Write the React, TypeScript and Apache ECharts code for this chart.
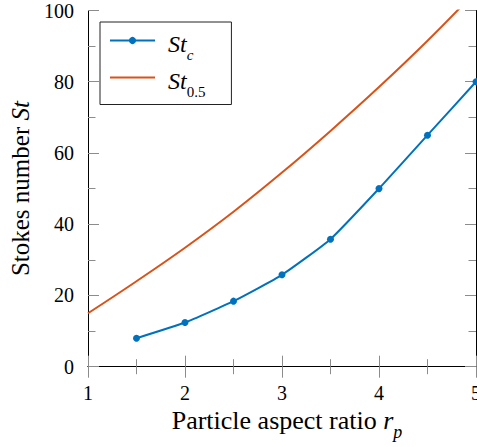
import React, { useEffect, useRef } from "react";
import * as echarts from "echarts";

const rpC = [1.5, 2, 2.5, 3, 3.5, 4, 4.5, 5];
const stC = [8, 12.4, 18.4, 25.8, 35.8, 50, 65, 80];
const rpHalf = [1, 1.5, 2, 2.5, 3, 3.5, 4, 4.5, 5];
const stHalf = [15, 24, 33.4, 43.5, 54.5, 66.2, 78.5, 91.5, 105.4];

const FONT = "'Liberation Serif', 'Times New Roman', serif";
const BLUE = "#0072BD";
const ORANGE = "#D95319";
const TICK = "#8c8c8c";

export default function App() {
  const ref = useRef<HTMLDivElement>(null);
  useEffect(() => {
    if (!ref.current) return;
    const chart = echarts.init(ref.current, null, { renderer: "svg" });
    const tickCommon = {
      axisTick: { show: true, inside: true, length: 11, lineStyle: { color: TICK, width: 1 } },
      minorTick: { show: true, splitNumber: 2, length: 7.5, lineStyle: { color: TICK, width: 1 } },
      axisLine: { show: true, lineStyle: { color: "#000", width: 1 } },
      splitLine: { show: false },
      minorSplitLine: { show: false },
    };
    chart.setOption({
      animation: false,
      textStyle: { fontFamily: FONT },
      grid: {
        left: 88,
        right: 1,
        top: 10.5,
        bottom: 80.3,
        containLabel: false,
        outerBoundsMode: "none",
      },
      legend: {
        orient: "vertical",
        left: 100,
        top: 22,
        padding: [4.5, 26, 5, 9],
        itemGap: 1,
        itemWidth: 45,
        itemHeight: 9,
        backgroundColor: "#fff",
        borderColor: "#222",
        borderWidth: 1,
        borderRadius: 0,
        data: [{ name: "St_c" }, { name: "St_0.5", itemStyle: { opacity: 0 } }],
        formatter: (name: string) =>
          name === "St_c" ? "{i|St}{s|c}" : "{i|St}{n|0.5}",
        textStyle: {
          fontFamily: FONT,
          rich: {
            i: { fontFamily: FONT, fontStyle: "italic", fontSize: 24, lineHeight: 28, verticalAlign: "top", padding: [5, 0, 0, 8], color: "#000" },
            s: { fontFamily: FONT, fontStyle: "italic", fontSize: 15, lineHeight: 15, verticalAlign: "top", padding: [21, 0, 0, 0], color: "#000" },
            n: { fontFamily: FONT, fontSize: 15, lineHeight: 15, verticalAlign: "top", padding: [21, 0, 0, 0], color: "#000" },
          },
        },
      },
      xAxis: [
        {
          type: "value",
          min: 1,
          max: 5,
          interval: 1,
          position: "bottom",
          ...tickCommon,
          axisLabel: { show: true, fontFamily: FONT, fontSize: 20, color: "#000", margin: 16 },
          name: "{n|Particle aspect ratio }{i|r}{s|p}",
          nameLocation: "middle",
          nameGap: 34.6,
          nameTextStyle: {
            fontFamily: FONT,
            rich: {
              n: { fontFamily: FONT, fontSize: 26, lineHeight: 31, verticalAlign: "top", padding: [0, 0, 0, 10], color: "#000" },
              i: { fontFamily: FONT, fontStyle: "italic", fontSize: 26, lineHeight: 31, verticalAlign: "top", color: "#000" },
              s: { fontFamily: FONT, fontStyle: "italic", fontSize: 18, lineHeight: 18, verticalAlign: "top", padding: [15, 0, 0, 0], color: "#000" },
            },
          },
        },
        {
          type: "value",
          min: 1,
          max: 5,
          interval: 1,
          position: "top",
          ...tickCommon,
          axisLabel: { show: false },
        },
      ],
      yAxis: [
        {
          type: "value",
          min: 0,
          max: 100,
          interval: 20,
          position: "left",
          ...tickCommon,
          axisLabel: { show: true, fontFamily: FONT, fontSize: 20, color: "#000", margin: 14, padding: [6, 0, 0, 0] },
          name: "{n|Stokes number }{i|St}",
          nameLocation: "middle",
          nameGap: 51,
          nameTextStyle: {
            fontFamily: FONT,
            rich: {
              n: { fontFamily: FONT, fontSize: 25, lineHeight: 30, color: "#000" },
              i: { fontFamily: FONT, fontStyle: "italic", fontSize: 25, lineHeight: 30, color: "#000" },
            },
          },
        },
        {
          type: "value",
          min: 0,
          max: 100,
          interval: 20,
          position: "right",
          ...tickCommon,
          axisLabel: { show: false },
        },
      ],
      series: [
        {
          name: "St_c",
          type: "line",
          xAxisIndex: 0,
          yAxisIndex: 0,
          data: rpC.map((x, i) => [x, stC[i]]),
          smooth: 0.15,
          symbol: "circle",
          symbolSize: 7,
          showSymbol: true,
          itemStyle: { color: BLUE },
          lineStyle: { color: BLUE, width: 2 },
          z: 3,
        },
        {
          name: "St_0.5",
          type: "line",
          xAxisIndex: 0,
          yAxisIndex: 0,
          data: rpHalf.map((x, i) => [x, stHalf[i]]),
          smooth: 0.4,
          showSymbol: false,
          symbol: "none",
          itemStyle: { color: ORANGE },
          lineStyle: { color: ORANGE, width: 2 },
          clip: true,
          z: 2,
        },
      ],
    });
    return () => chart.dispose();
  }, []);
  return (
    <div
      ref={ref}
      style={{ position: "fixed", left: 0, top: 0, width: 477, height: 447, background: "#fff" }}
    />
  );
}
